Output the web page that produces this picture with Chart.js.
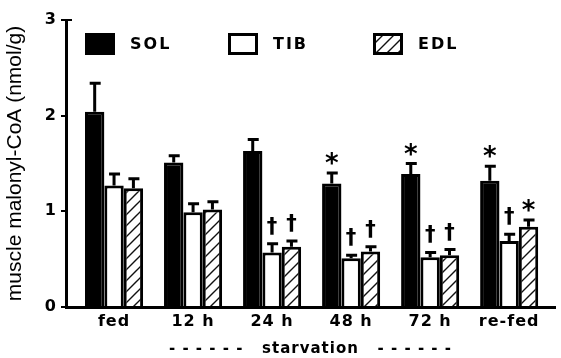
<!DOCTYPE html>
<html><head><meta charset="utf-8">
<script src="https://cdn.jsdelivr.net/npm/chart.js@4.4.1/dist/chart.umd.min.js"></script>
<style>html,body{margin:0;padding:0;background:#fff;}</style>
</head><body>
<canvas id="c" width="561" height="358"></canvas>
<script>
// ---- data ----
const categories = ['fed', '12 h', '24 h', '48 h', '72 h', 're-fed'];
const seriesNames = ['SOL', 'TIB', 'EDL'];
const solValues = [2.04, 1.51, 1.63, 1.29, 1.39, 1.32];
const tibValues = [1.27, 0.99, 0.57, 0.51, 0.52, 0.69];
const edlValues = [1.24, 1.02, 0.63, 0.58, 0.54, 0.84];
const solErrors = [0.30, 0.07, 0.12, 0.11, 0.11, 0.15];
const tibErrors = [0.12, 0.09, 0.09, 0.03, 0.05, 0.07];
const edlErrors = [0.10, 0.08, 0.06, 0.05, 0.06, 0.07];
const solMarks = ['', '', '', '*', '*', '*'];
const tibMarks = ['', '', '\u2020', '\u2020', '\u2020', '\u2020'];
const edlMarks = ['', '', '\u2020', '\u2020', '\u2020', '*'];
const yTickValues = [0, 1, 2, 3];
const yTitle = 'muscle malonyl-CoA (nmol/g)';
const xTitle = '- - - - - -   starvation   - - - - - -';

// ---- styles ----
const canvas = document.getElementById('c');
const mainCtx = canvas.getContext('2d');
function makeHatch() {
  const t = document.createElement('canvas');
  t.width = 11; t.height = 11;
  const g = t.getContext('2d');
  g.fillStyle = '#fff'; g.fillRect(0, 0, 11, 11);
  g.strokeStyle = '#111'; g.lineWidth = 1.4;
  g.beginPath();
  g.moveTo(0, 11); g.lineTo(11, 0);
  g.moveTo(-2, 2); g.lineTo(2, -2);
  g.moveTo(9, 13); g.lineTo(13, 9);
  g.stroke();
  return mainCtx.createPattern(t, 'repeat');
}
const hatch = makeHatch();
const BOLD = '"DejaVu Sans", sans-serif';

function pts(vals) { return vals.map((v, i) => ({ x: i, y: v })); }

const datasets = [
  { label: seriesNames[0], data: pts(solValues), errors: solErrors, marks: solMarks, backgroundColor: '#000', borderColor: '#000', borderWidth: 3 },
  { label: seriesNames[1], data: pts(tibValues), errors: tibErrors, marks: tibMarks, backgroundColor: '#fff', borderColor: '#000', borderWidth: 3 },
  { label: seriesNames[2], data: pts(edlValues), errors: edlErrors, marks: edlMarks, backgroundColor: hatch, borderColor: '#000', borderWidth: 3 }
];

const spacingPlugin = {
  id: 'spacing',
  beforeUpdate(chart) { chart.ctx.letterSpacing = '1px'; },
  beforeDraw(chart) { chart.ctx.letterSpacing = '1px'; }
};

const errPlugin = {
  id: 'err',
  afterDatasetsDraw(chart) {
    const ctx = chart.ctx, ys = chart.scales.y;
    chart.data.datasets.forEach((ds, di) => {
      const meta = chart.getDatasetMeta(di);
      meta.data.forEach((bar, i) => {
        const v = ds.data[i].y, e = ds.errors[i];
        const top = ys.getPixelForValue(v + e);
        ctx.save();
        ctx.strokeStyle = '#000'; ctx.lineWidth = 3;
        ctx.beginPath();
        ctx.moveTo(bar.x, bar.y); ctx.lineTo(bar.x, top);
        ctx.moveTo(bar.x - 5, top); ctx.lineTo(bar.x + 6, top);
        ctx.stroke();
        const m = ds.marks[i];
        if (m) {
          ctx.fillStyle = '#000'; ctx.textAlign = 'center'; ctx.textBaseline = 'alphabetic';
          ctx.letterSpacing = '0px';
          if (m === '*') { ctx.font = 'bold 26px ' + BOLD; ctx.fillText(m, bar.x, top - 1); }
          else { ctx.font = 'bold 21px ' + BOLD; ctx.fillText(m, bar.x, top - 11); }
        }
        ctx.restore();
      });
    });
  }
};

const legendPlugin = {
  id: 'customLegend',
  afterDraw(chart) {
    const ctx = chart.ctx;
    const boxX = [85, 228, 373];
    chart.data.datasets.forEach((ds, i) => {
      ctx.save();
      ctx.fillStyle = ds.backgroundColor;
      ctx.fillRect(boxX[i], 33, 30, 22);
      ctx.strokeStyle = '#000'; ctx.lineWidth = 3;
      ctx.strokeRect(boxX[i] + 1.5, 34.5, 27, 19);
      ctx.fillStyle = '#000';
      ctx.font = 'bold 16px ' + BOLD;
      ctx.textAlign = 'left'; ctx.textBaseline = 'middle';
      ctx.letterSpacing = '2px';
      ctx.fillText(ds.label, boxX[i] + 45, 45);
      ctx.restore();
    });
    // small inward cap at the top of the y axis
    const a = chart.chartArea;
    ctx.save();
    ctx.strokeStyle = '#000'; ctx.lineWidth = 2;
    ctx.beginPath();
    ctx.moveTo(a.left, chart.scales.y.getPixelForValue(3));
    ctx.lineTo(a.left + 6, chart.scales.y.getPixelForValue(3));
    ctx.stroke();
    ctx.restore();
  }
};

const yTitlePlugin = {
  id: 'yTitle',
  afterDraw(chart) {
    const ctx = chart.ctx, a = chart.chartArea;
    ctx.save();
    ctx.letterSpacing = '0px';
    ctx.translate(15, (a.top + a.bottom) / 2);
    ctx.rotate(-Math.PI / 2);
    ctx.font = '21px "Liberation Sans", Arial, sans-serif';
    ctx.fillStyle = '#000';
    ctx.textAlign = 'center'; ctx.textBaseline = 'middle';
    ctx.fillText(yTitle, 0, 0);
    ctx.restore();
  }
};

new Chart(canvas, {
  type: 'bar',
  data: { datasets },
  plugins: [spacingPlugin, errPlugin, legendPlugin, yTitlePlugin],
  options: {
    responsive: false,
    animation: false,
    devicePixelRatio: 1,
    categoryPercentage: 0.735,
    barPercentage: 1.0,
    layout: { padding: { top: 20, right: 6, left: 0, bottom: 0 } },
    plugins: { legend: { display: false }, tooltip: { enabled: false } },
    scales: {
      x: {
        type: 'linear',
        offset: false,
        min: -0.608, max: 5.58,
        grid: { display: false, drawTicks: false, offset: false },
        border: { display: true, color: '#000', width: 3 },
        afterBuildTicks: s => { s.ticks = categories.map((c, i) => ({ value: i })); },
        ticks: {
          autoSkip: false, maxRotation: 0, padding: 5, color: '#000',
          font: { family: BOLD, size: 16, weight: 'bold' },
          callback: v => categories[v]
        },
        title: { display: true, text: xTitle, color: '#000', padding: { top: 0, bottom: 0 },
          font: { family: BOLD, size: 15, weight: 'bold' } },
        afterFit: s => { s.height = 51; }
      },
      y: {
        min: 0, max: 3,
        afterBuildTicks: s => { s.ticks = yTickValues.map(v => ({ value: v })); },
        grid: { drawOnChartArea: false, drawTicks: true, tickLength: 5, color: '#000', lineWidth: 2 },
        border: { display: true, color: '#000', width: 3 },
        ticks: { padding: 4, color: '#000', font: { family: BOLD, size: 16, weight: 'bold' } },
        afterFit: s => { s.width = 66; }
      }
    }
  }
});
</script>
</body></html>
